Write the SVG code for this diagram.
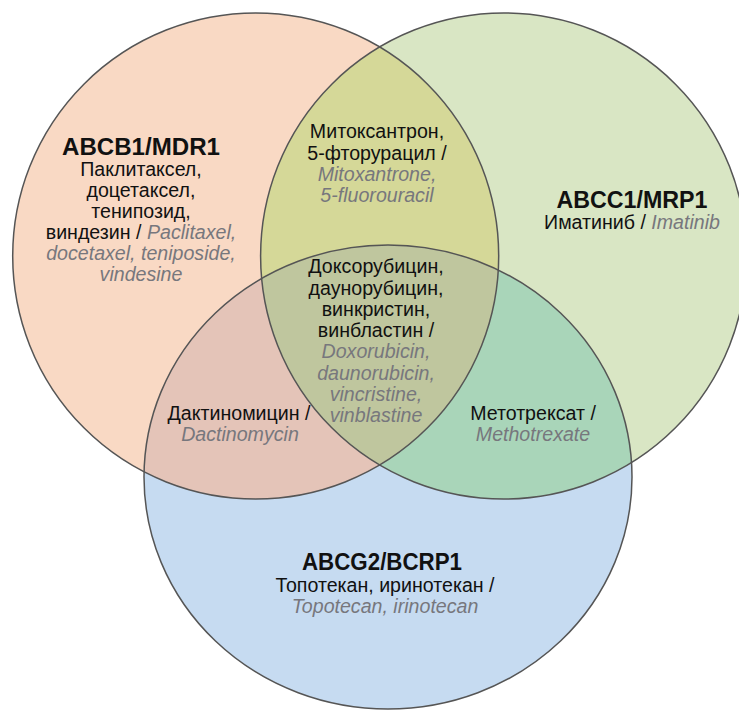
<svg xmlns="http://www.w3.org/2000/svg" width="739" height="711" viewBox="0 0 739 711">
<style>
.t{font-family:"Liberation Sans",Arial,sans-serif;font-size:19.6px;fill:#111;text-anchor:middle}
.b{font-weight:bold;font-size:23.5px}
.i{font-style:italic;fill:#77777d}
.o{fill:none;stroke:#555;stroke-width:1.5}
</style>
<defs>
<circle id="cA" cx="255.7" cy="256" r="243"/>
<circle id="cB" cx="503.6" cy="256" r="243"/>
<ellipse id="cC" cx="388" cy="477" rx="244" ry="232"/>
<clipPath id="kA"><use href="#cA"/></clipPath>
<clipPath id="kB"><use href="#cB"/></clipPath>
</defs>
<rect width="739" height="711" fill="#fff"/>
<g id="abcb1"><use href="#cA" fill="#F9D9C4"/></g>
<g id="abcc1"><use href="#cB" fill="#D9E6C4"/></g>
<g id="abcg2"><use href="#cC" fill="#C6DBF1"/></g>
<g id="overlaps">
<use href="#cB" fill="#D5D898" clip-path="url(#kA)"/>
<use href="#cC" fill="#E4C4B8" clip-path="url(#kA)"/>
<use href="#cC" fill="#A9D5B9" clip-path="url(#kB)"/>
<g clip-path="url(#kA)"><use href="#cC" fill="#BFC69E" clip-path="url(#kB)"/></g>
</g>
<g id="outlines">
<use href="#cA" class="o"/>
<use href="#cB" class="o"/>
<use href="#cC" class="o"/>
</g>
<g id="label-abcb1" class="t">
<text class="t b" x="141" y="155" textLength="158" lengthAdjust="spacingAndGlyphs">ABCB1/MDR1</text>
<text class="t" x="141" y="176">Паклитаксел,</text>
<text class="t" x="141" y="197">доцетаксел,</text>
<text class="t" x="141" y="218">тенипозид,</text>
<text class="t" x="141" y="239">виндезин / <tspan class="i">Paclitaxel,</tspan></text>
<text class="t i" x="141" y="260">docetaxel, teniposide,</text>
<text class="t i" x="141" y="281">vindesine</text>
</g>
<g id="label-ab" class="t">
<text class="t" x="377" y="138">Митоксантрон,</text>
<text class="t" x="377" y="160">5-фторурацил /</text>
<text class="t i" x="377" y="181">Mitoxantrone,</text>
<text class="t i" x="377" y="202">5-fluorouracil</text>
</g>
<g id="label-abc" class="t">
<text class="t" x="376" y="273">Доксорубицин,</text>
<text class="t" x="376" y="294.5">даунорубицин,</text>
<text class="t" x="376" y="316">винкристин,</text>
<text class="t" x="376" y="337">винбластин /</text>
<text class="t i" x="376" y="358">Doxorubicin,</text>
<text class="t i" x="376" y="379.5">daunorubicin,</text>
<text class="t i" x="376" y="401">vincristine,</text>
<text class="t i" x="376" y="422">vinblastine</text>
</g>
<g id="label-abcc1" class="t">
<text class="t b" x="632" y="208" textLength="151" lengthAdjust="spacingAndGlyphs">ABCC1/MRP1</text>
<text class="t" x="632" y="229">Иматиниб / <tspan class="i">Imatinib</tspan></text>
</g>
<g id="label-ac" class="t">
<text class="t" x="239" y="420">Дактиномицин /</text>
<text class="t i" x="240" y="441">Dactinomycin</text>
</g>
<g id="label-bc" class="t">
<text class="t" x="533" y="420">Метотрексат /</text>
<text class="t i" x="533" y="441">Methotrexate</text>
</g>
<g id="label-abcg2" class="t">
<text class="t b" x="382" y="570" textLength="160" lengthAdjust="spacingAndGlyphs">ABCG2/BCRP1</text>
<text class="t" x="385" y="592">Топотекан, иринотекан /</text>
<text class="t i" x="385" y="613">Topotecan, irinotecan</text>
</g>
</svg>
